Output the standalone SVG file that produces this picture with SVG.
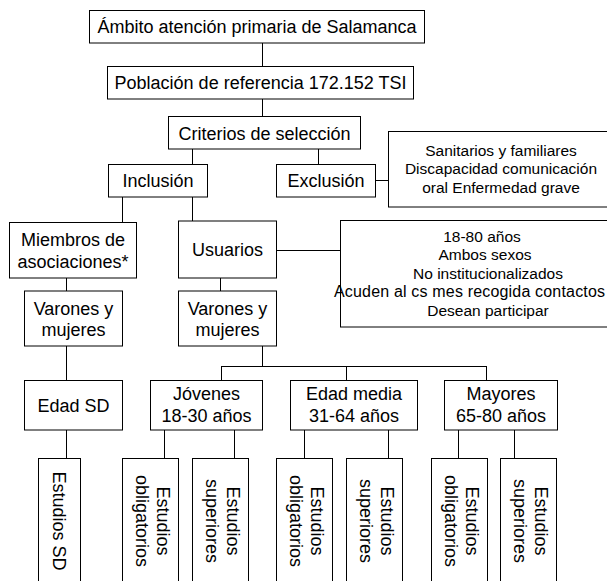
<svg xmlns="http://www.w3.org/2000/svg" width="607" height="581" viewBox="0 0 607 581">
<style>
.b{fill:#fff;stroke:#000;stroke-width:1}
.t{font-family:"Liberation Sans",Arial,Helvetica,sans-serif;font-size:18px;fill:#000;text-anchor:middle}
.s{font-family:"Liberation Sans",Arial,Helvetica,sans-serif;font-size:15.5px;fill:#000;text-anchor:middle}
.c{fill:none;stroke:#000;stroke-width:1}
</style>
<rect width="607" height="581" fill="#fff"/>
<g id="connectors" class="c">
<path d="M262.5 43V66M262.5 99V117M192.5 149V164M318.5 149V164M375 180.5H388M122.5 197V222M192.5 197V221M276 250.5H340M66.5 278V291M220.5 278V291M66.5 346V380M262.5 346V366.5M221 366.5H486M221.5 366V380M346.5 366V380M486.5 366V380M66.5 430V458M164.5 430V458M234.5 430V458M304.5 430V458M388.5 430V458M458.5 430V458M514.5 430V458"/>
</g>
<g id="n1"><rect class="b" x="89.5" y="10.5" width="335" height="32.5"/><text class="t" x="257" y="33">Ámbito atención primaria de Salamanca</text></g>
<g id="n2"><rect class="b" x="107.5" y="66.5" width="306" height="32.5"/><text class="t" x="260.5" y="89">Población de referencia 172.152 TSI</text></g>
<g id="n3"><rect class="b" x="168.5" y="116.5" width="192" height="32.5"/><text class="t" x="264.5" y="139.5">Criterios de selección</text></g>
<g id="n4"><rect class="b" x="108.5" y="164.5" width="99" height="32.5"/><text class="t" x="158" y="187">Inclusión</text></g>
<g id="n5"><rect class="b" x="276.5" y="164.5" width="99" height="32.5"/><text class="t" x="326" y="187">Exclusión</text></g>
<g id="n6"><rect class="b" x="388.5" y="131.5" width="240" height="75.5"/><text class="s"><tspan x="501" y="155.5">Sanitarios y familiares</tspan><tspan x="501" y="174">Discapacidad comunicación</tspan><tspan x="501" y="192.5">oral Enfermedad grave</tspan></text></g>
<g id="n7"><rect class="b" x="9.5" y="222.5" width="127" height="55.5"/><text class="t"><tspan x="73" y="245.5">Miembros de</tspan><tspan x="73" y="267.5">asociaciones*</tspan></text></g>
<g id="n8"><rect class="b" x="178.5" y="221" width="98" height="57"/><text class="t" x="227.5" y="255.5">Usuarios</text></g>
<g id="n9"><rect class="b" x="340.5" y="220.5" width="300" height="106.5"/><text class="s"><tspan x="482" y="241.5">18-80 años</tspan><tspan x="485" y="260">Ambos sexos</tspan><tspan x="488" y="278.5">No institucionalizados</tspan><tspan x="488" y="315.5">Desean participar</tspan></text><text class="s" style="text-anchor:start;font-size:16px" x="334" y="297" textLength="271">Acuden al cs mes recogida contactos</text></g>
<g id="n10"><rect class="b" x="24.5" y="291" width="98" height="55"/><text class="t"><tspan x="73.5" y="314.5">Varones y</tspan><tspan x="73.5" y="336">mujeres</tspan></text></g>
<g id="n11"><rect class="b" x="178.5" y="291" width="98" height="55"/><text class="t"><tspan x="227.5" y="314.5">Varones y</tspan><tspan x="227.5" y="336">mujeres</tspan></text></g>
<g id="n12"><rect class="b" x="24.5" y="380.5" width="98" height="49.5"/><text class="t" x="73.5" y="411.5">Edad SD</text></g>
<g id="n13"><rect class="b" x="150.5" y="380.5" width="112" height="49.5"/><text class="t"><tspan x="206.5" y="400">Jóvenes</tspan><tspan x="206.5" y="422">18-30 años</tspan></text></g>
<g id="n14"><rect class="b" x="290.5" y="380.5" width="127" height="49.5"/><text class="t"><tspan x="354" y="400">Edad media</tspan><tspan x="354" y="422">31-64 años</tspan></text></g>
<g id="n15"><rect class="b" x="444.5" y="380.5" width="113" height="49.5"/><text class="t"><tspan x="501" y="400">Mayores</tspan><tspan x="501" y="422">65-80 años</tspan></text></g>
<g id="n16"><rect class="b" x="38.5" y="458.5" width="42" height="140"/><text class="t" transform="translate(59.5 521) rotate(90)" y="6.3">Estudios SD</text></g>
<g id="n17"><rect class="b" x="122.5" y="458.5" width="56" height="140"/><text class="t" transform="translate(152.5 521) rotate(90)"><tspan x="0" y="-4.2">Estudios</tspan><tspan x="0" y="16.8">obligatorios</tspan></text></g>
<g id="n18"><rect class="b" x="192.5" y="458.5" width="56" height="140"/><text class="t" transform="translate(222.5 521) rotate(90)"><tspan x="0" y="-4.2">Estudios</tspan><tspan x="0" y="16.8">superiores</tspan></text></g>
<g id="n19"><rect class="b" x="276.5" y="458.5" width="56" height="140"/><text class="t" transform="translate(306.5 521) rotate(90)"><tspan x="0" y="-4.2">Estudios</tspan><tspan x="0" y="16.8">obligatorios</tspan></text></g>
<g id="n20"><rect class="b" x="346.5" y="458.5" width="56" height="140"/><text class="t" transform="translate(376.5 521) rotate(90)"><tspan x="0" y="-4.2">Estudios</tspan><tspan x="0" y="16.8">superiores</tspan></text></g>
<g id="n21"><rect class="b" x="431.5" y="458.5" width="56" height="140"/><text class="t" transform="translate(461.5 521) rotate(90)"><tspan x="0" y="-4.2">Estudios</tspan><tspan x="0" y="16.8">obligatorios</tspan></text></g>
<g id="n22"><rect class="b" x="500.5" y="458.5" width="56" height="140"/><text class="t" transform="translate(530.5 521) rotate(90)"><tspan x="0" y="-4.2">Estudios</tspan><tspan x="0" y="16.8">superiores</tspan></text></g>
</svg>
